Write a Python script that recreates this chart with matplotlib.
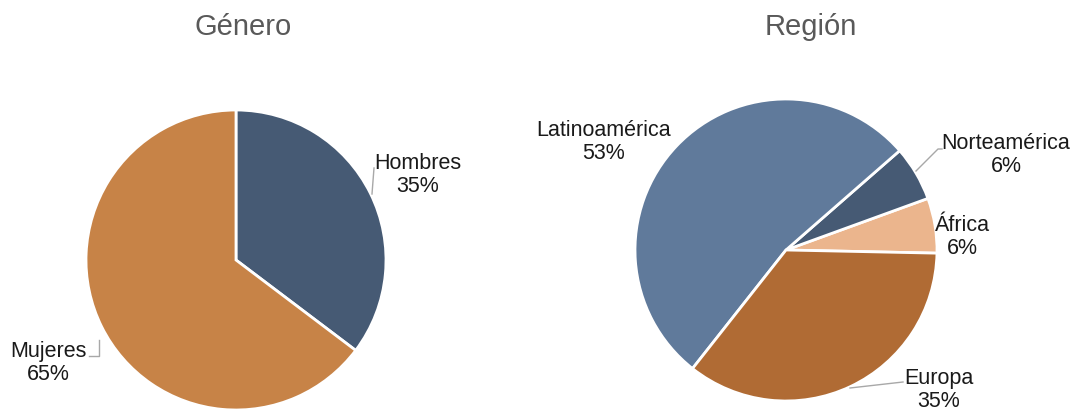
import matplotlib.pyplot as plt

plt.rcParams['font.family'] = ['Liberation Sans', 'DejaVu Sans']

# data (counts, the labels show the rounded share)
gender_labels = ["Hombres", "Mujeres"]
gender_counts = [6, 11]
gender_colors = ["#465a74", "#c78347"]

region_labels = ["África", "Norteamérica", "Latinoamérica", "Europa"]
region_counts = [1, 1, 9, 6]
region_colors = ["#ebb58d", "#465a74", "#607a9b", "#b06b34"]

W, H = 1076, 410
fig = plt.figure(figsize=(W / 100, H / 100), dpi=100)


def px_axes(cx, cy, r):
    # axes box around a pie centred at pixel (cx, cy) with radius r
    return fig.add_axes([(cx - r) / W, (H - cy - r) / H, 2 * r / W, 2 * r / H])


def draw_pie(ax, values, colors, start, ccw):
    ax.pie(values, colors=colors, startangle=start, counterclock=ccw,
           radius=1, wedgeprops=dict(edgecolor="white", linewidth=2))
    ax.set_xlim(-1, 1)
    ax.set_ylim(-1, 1)
    ax.set_aspect("auto")
    ax.axis("off")


def label(ax, name, pct, xy, line=None):
    ax.text(xy[0], xy[1], f"{name}\n{pct:.0f}%", ha="center", va="center",
            fontsize=15.5, color="#1a1a1a", linespacing=1.1, clip_on=False)
    if line is not None:
        xs, ys = zip(*line)
        ax.plot(xs, ys, color="#a8a8a8", lw=1, clip_on=False)


def shares(counts):
    total = sum(counts)
    return [100 * c / total for c in counts]


# left pie: Genero
cx1, cy1, r1 = 236, 261, 150
ax1 = px_axes(cx1, cy1, r1)
draw_pie(ax1, gender_counts, gender_colors, 90, False)
gpct = shares(gender_counts)


def d1(px, py):
    return ((px - cx1) / r1, (cy1 - py) / r1)


label(ax1, gender_labels[0], gpct[0], d1(418, 175),
      [d1(372, 195), d1(374, 169)])
label(ax1, gender_labels[1], gpct[1], d1(48, 363),
      [d1(99, 341), d1(99, 357), d1(89, 357)])

# right pie: Region
cx2, cy2, r2 = 786, 251, 151
ax2 = px_axes(cx2, cy2, r2)
draw_pie(ax2, region_counts, region_colors, -1.2, True)
rpct = shares(region_counts)


def d2(px, py):
    return ((px - cx2) / r2, (cy2 - py) / r2)


label(ax2, region_labels[0], rpct[0], d2(962, 237))
label(ax2, region_labels[1], rpct[1], d2(1006, 155),
      [d2(916, 172), d2(938, 150), d2(942, 150)])
label(ax2, region_labels[2], rpct[2], d2(604, 142))
label(ax2, region_labels[3], rpct[3], d2(939, 390),
      [d2(850, 389), d2(903, 383)])

fig.text(243 / W, 1 - 27 / H, "Género", ha="center", va="center",
         fontsize=21, color="#595959")
fig.text(811 / W, 1 - 27 / H, "Región", ha="center", va="center",
         fontsize=21, color="#595959")

fig.savefig("out.png", dpi=100, facecolor="white")
